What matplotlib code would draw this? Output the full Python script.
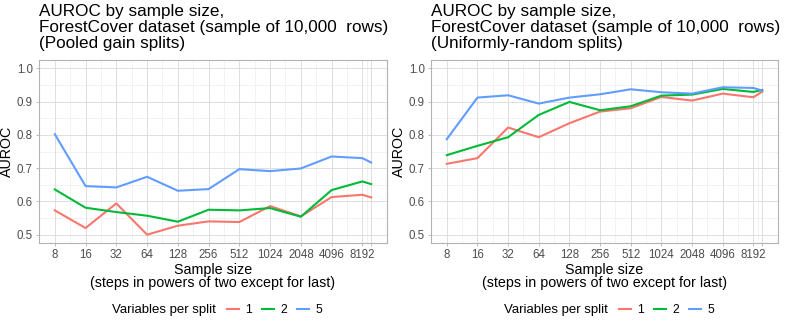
import numpy as np
import matplotlib
matplotlib.use("Agg")
import matplotlib.pyplot as plt
from matplotlib.lines import Line2D

plt.rcParams['font.family'] = ['Liberation Sans', 'DejaVu Sans']

# sample sizes (last one is the full 10,000 rows)
sizes = [8, 16, 32, 64, 128, 256, 512, 1024, 2048, 4096, 8192, 10000]
tick_labels = ["8", "16", "32", "64", "128", "256", "512", "1024", "2048", "4096", "8192", ""]
groups = ["1", "2", "5"]
colors = ["#F8766D", "#00BA38", "#619CFF"]

# pooled gain splits
pooled_1 = [0.573, 0.520, 0.594, 0.500, 0.527, 0.540, 0.538, 0.586, 0.555, 0.613, 0.620, 0.612]
pooled_2 = [0.636, 0.581, 0.568, 0.557, 0.539, 0.575, 0.573, 0.580, 0.554, 0.634, 0.660, 0.652]
pooled_5 = [0.802, 0.646, 0.642, 0.674, 0.632, 0.637, 0.697, 0.691, 0.699, 0.735, 0.730, 0.717]

# uniformly-random splits
unif_1 = [0.713, 0.730, 0.822, 0.793, 0.835, 0.870, 0.880, 0.914, 0.903, 0.924, 0.913, 0.930]
unif_2 = [0.739, 0.767, 0.793, 0.860, 0.899, 0.874, 0.886, 0.918, 0.921, 0.938, 0.929, 0.935]
unif_5 = [0.787, 0.912, 0.919, 0.894, 0.912, 0.922, 0.937, 0.928, 0.924, 0.943, 0.941, 0.933]

titles = ["AUROC by sample size,\nForestCover dataset (sample of 10,000  rows)\n(Pooled gain splits)",
          "AUROC by sample size,\nForestCover dataset (sample of 10,000  rows)\n(Uniformly-random splits)"]

W, H = 785, 327
fig = plt.figure(figsize=(W / 100, H / 100), dpi=100)

def px(x0, y0, x1, y1):
    return [x0 / W, 1 - y1 / H, (x1 - x0) / W, (y1 - y0) / H]

panels = [(px(39, 60, 387, 243), [pooled_1, pooled_2, pooled_5], 39),
          (px(431, 60, 778, 243), [unif_1, unif_2, unif_5], 431)]

lx = np.log2(sizes)
minor_x = (lx[:-1] + lx[1:]) / 2

for i, (pos, series, left) in enumerate(panels):
    ax = fig.add_axes(pos)
    ax.set_xlim(lx[0] - 0.05 * (lx[-1] - lx[0]), lx[-1] + 0.05 * (lx[-1] - lx[0]))
    ax.set_ylim(0.475, 1.025)
    for m in minor_x:
        ax.axvline(m, color="#EDEDED", lw=0.5, zorder=0)
    for m in [0.55, 0.65, 0.75, 0.85, 0.95]:
        ax.axhline(m, color="#EDEDED", lw=0.5, zorder=0)
    for m in lx:
        ax.axvline(m, color="#DEDEDE", lw=0.7, zorder=0)
    for m in [0.5, 0.6, 0.7, 0.8, 0.9, 1.0]:
        ax.axhline(m, color="#DEDEDE", lw=0.7, zorder=0)
    for s, c in zip(series, colors):
        ax.plot(lx, s, color=c, lw=1.5, zorder=3)
    ax.set_xticks(lx)
    ax.set_xticklabels(tick_labels)
    ax.set_yticks([0.5, 0.6, 0.7, 0.8, 0.9, 1.0])
    ax.set_yticklabels(["0.5", "0.6", "0.7", "0.8", "0.9", "1.0"])
    ax.tick_params(colors="#B3B3B3", labelcolor="#4D4D4D", labelsize=8.3, length=2.5, width=0.6, pad=2)
    for sp in ax.spines.values():
        sp.set_color("#B3B3B3")
        sp.set_linewidth(0.8)
    ax.set_xlabel("Sample size\n(steps in powers of two except for last)", fontsize=10.3,
                  linespacing=0.95, labelpad=1)
    ax.set_ylabel("AUROC", fontsize=10.3, labelpad=2)
    fig.text(left / W, 1 - 4 / H, titles[i], ha="left", va="top", fontsize=12.3, linespacing=1.08)

    # legend below the panel
    cx = left - 39
    fig.text((cx + 112) / W, 1 - 310 / H, "Variables per split", ha="left", va="center", fontsize=9.5)
    handles = [Line2D([0], [0], color=c, lw=1.5) for c in colors]
    fig.legend(handles, groups, loc="center left", bbox_to_anchor=((cx + 221) / W, 1 - 310 / H),
               ncol=3, frameon=False, fontsize=8.8, handlelength=1.0, handletextpad=0.5,
               columnspacing=0.8, borderpad=0)

fig.savefig("out.png", dpi=100)
